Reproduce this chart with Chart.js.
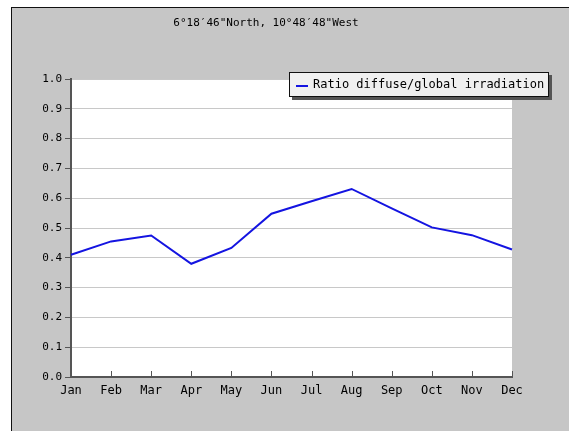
<!DOCTYPE html>
<html>
<head>
<meta charset="utf-8">
<script src="https://cdn.jsdelivr.net/npm/chart.js@4"></script>
<style>
  html, body { margin: 0; padding: 0; background: #ffffff; }
  canvas { display: block; }
</style>
</head>
<body>
<canvas id="ratioChart" width="569" height="431"></canvas>
<script>
// data
const chartTitle = '6°18′46"North, 10°48′48"West';
const months = ['Jan', 'Feb', 'Mar', 'Apr', 'May', 'Jun', 'Jul', 'Aug', 'Sep', 'Oct', 'Nov', 'Dec'];
const diffuseRatio = [0.41, 0.455, 0.475, 0.38, 0.433, 0.548, 0.59, 0.631, 0.566, 0.502, 0.476, 0.428];
const seriesLabel = 'Ratio diffuse/global irradiation';
const yMin = 0;
const yMax = 1.0;
const yStep = 0.1;

const MONO = '"DejaVu Sans Mono", "Liberation Mono", monospace';

// background, frame, title, inward x ticks and the boxed legend
const framePlugin = {
    id: 'frame',
    beforeDraw(chart) {
        const ctx = chart.ctx;
        const area = chart.chartArea;
        ctx.save();
        ctx.fillStyle = '#ffffff';
        ctx.fillRect(0, 0, chart.width, chart.height);
        ctx.fillStyle = '#c6c6c6';
        ctx.fillRect(11, 7, chart.width - 11, chart.height - 7);
        ctx.fillStyle = '#111111';
        ctx.fillRect(11, 7, chart.width - 11, 1);
        ctx.fillRect(11, 7, 1, chart.height - 7);
        // plot area
        ctx.fillStyle = '#ffffff';
        ctx.fillRect(area.left, area.top, area.right - area.left, area.bottom - area.top);
        // title
        ctx.fillStyle = '#000000';
        ctx.font = '11px ' + MONO;
        ctx.textAlign = 'center';
        ctx.textBaseline = 'middle';
        ctx.fillText(chartTitle, 266, 23);
        ctx.restore();
    },
    afterDraw(chart) {
        const ctx = chart.ctx;
        const x = chart.scales.x;
        const area = chart.chartArea;
        ctx.save();
        // x ticks pointing up into the plot
        ctx.strokeStyle = '#555555';
        ctx.lineWidth = 1;
        months.forEach((m, i) => {
            const px = Math.round(x.getPixelForValue(i)) + 0.5;
            ctx.beginPath();
            ctx.moveTo(px, area.bottom);
            ctx.lineTo(px, area.bottom - 6);
            ctx.stroke();
        });
        // legend box with shadow
        const bx = 289, by = 72, bw = 260, bh = 25;
        ctx.fillStyle = '#555555';
        ctx.fillRect(bx + 3, by + 3, bw, bh);
        ctx.fillStyle = '#f0f0f0';
        ctx.fillRect(bx, by, bw, bh);
        ctx.strokeStyle = '#111111';
        ctx.strokeRect(bx + 0.5, by + 0.5, bw - 1, bh - 1);
        const ds = chart.data.datasets[0];
        ctx.strokeStyle = ds.borderColor;
        ctx.lineWidth = 2;
        ctx.beginPath();
        ctx.moveTo(296, 86);
        ctx.lineTo(308, 86);
        ctx.stroke();
        ctx.fillStyle = '#000000';
        ctx.font = '12px ' + MONO;
        ctx.textAlign = 'left';
        ctx.textBaseline = 'middle';
        ctx.fillText(ds.label, 313, 85);
        ctx.restore();
    }
};

const ctx = document.getElementById('ratioChart').getContext('2d');
const ratioChart = new Chart(ctx, {
    type: 'line',
    data: {
        labels: months,
        datasets: [{
            label: seriesLabel,
            data: diffuseRatio,
            borderColor: 'rgb(20, 20, 225)',
            backgroundColor: 'rgb(20, 20, 225)',
            borderWidth: 2,
            pointRadius: 0,
            tension: 0,
            fill: false
        }]
    },
    options: {
        responsive: false,
        animation: false,
        layout: {
            padding: { top: 79, right: 57, bottom: 24, left: 0 }
        },
        plugins: {
            legend: { display: false },
            title: { display: false },
            tooltip: { enabled: false }
        },
        scales: {
            x: {
                offset: false,
                afterFit: (scale) => { scale.height = 30; },
                grid: { display: true, drawOnChartArea: false, drawTicks: false },
                border: { display: true, color: '#555555', width: 2 },
                ticks: {
                    color: '#000000',
                    font: { family: MONO, size: 12 },
                    padding: 7,
                    maxRotation: 0,
                    autoSkip: false
                }
            },
            y: {
                min: yMin,
                max: yMax,
                afterFit: (scale) => { scale.width = 71; },
                grid: {
                    color: '#c8c8c8',
                    tickColor: '#555555',
                    tickLength: 6,
                    lineWidth: 1
                },
                border: { display: true, color: '#555555', width: 2 },
                ticks: {
                    stepSize: yStep,
                    color: '#000000',
                    font: { family: MONO, size: 11 },
                    padding: 3,
                    callback: (v) => Number(v).toFixed(1)
                }
            }
        }
    },
    plugins: [framePlugin]
});
</script>
</body>
</html>
